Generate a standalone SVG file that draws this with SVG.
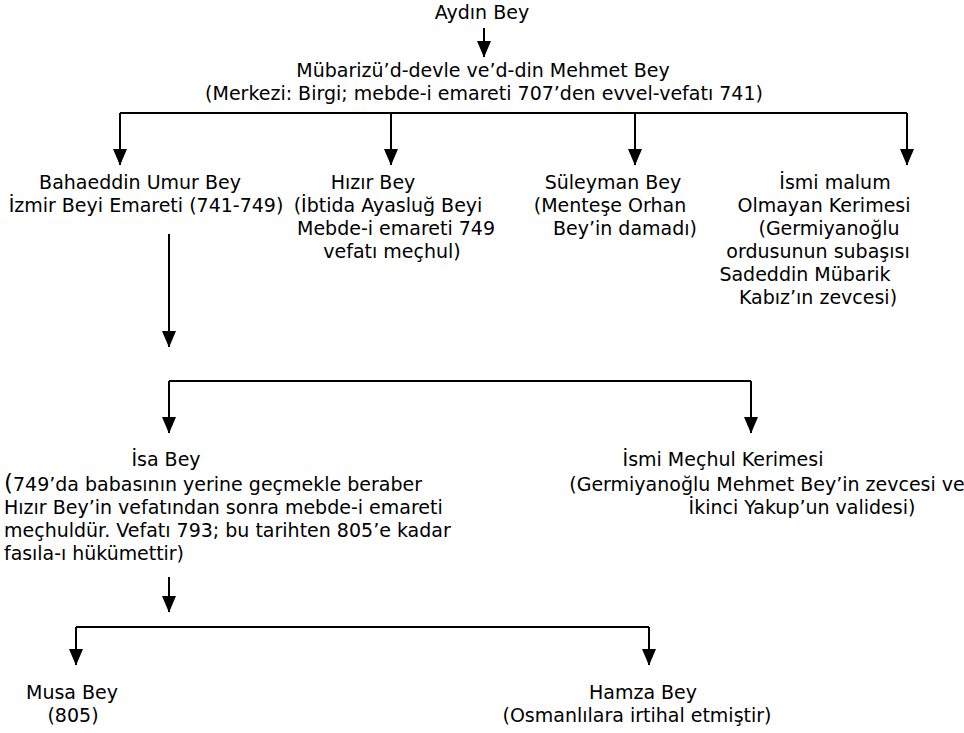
<svg xmlns="http://www.w3.org/2000/svg" width="964" height="733" viewBox="0 0 964 733">
<style>
text{font-family:"DejaVu Sans","Noto Sans",sans-serif;font-size:19px;fill:#000}
.m{text-anchor:middle}
.c{fill:none;stroke:#000;stroke-width:2}
</style>
<defs>
<marker id="ah" markerUnits="userSpaceOnUse" markerWidth="16" markerHeight="17" refX="8" refY="16" orient="0" viewBox="0 0 16 17">
<path d="M1,0 L15,0 L8,16.5 Z" fill="#000"/>
</marker>
</defs>
<rect width="964" height="733" fill="#fff"/>
<g id="connectors">
<path class="c" d="M484,28 V57" marker-end="url(#ah)"/>
<path class="c" d="M120,113 H907"/>
<path class="c" d="M120,113 V165" marker-end="url(#ah)"/>
<path class="c" d="M391,113 V165" marker-end="url(#ah)"/>
<path class="c" d="M635,113 V165" marker-end="url(#ah)"/>
<path class="c" d="M907,113 V165" marker-end="url(#ah)"/>
<path class="c" d="M169,234 V347" marker-end="url(#ah)"/>
<path class="c" d="M169,381 H751"/>
<path class="c" d="M169,381 V433" marker-end="url(#ah)"/>
<path class="c" d="M751,381 V433" marker-end="url(#ah)"/>
<path class="c" d="M169,577 V612" marker-end="url(#ah)"/>
<path class="c" d="M76,627 H649"/>
<path class="c" d="M76,627 V665" marker-end="url(#ah)"/>
<path class="c" d="M649,627 V665" marker-end="url(#ah)"/>
</g>
<g id="aydin"><text class="m" x="482" y="19">Aydın Bey</text></g>
<g id="mehmet">
<text class="m" x="483" y="77">Mübarizü’d-devle ve’d-din Mehmet Bey</text>
<text class="m" x="484" y="100">(Merkezi: Birgi; mebde-i emareti 707’den evvel-vefatı 741)</text>
</g>
<g id="umur">
<text class="m" x="140" y="189">Bahaeddin Umur Bey</text>
<text class="m" x="146" y="212">İzmir Beyi Emareti (741-749)</text>
</g>
<g id="hizir">
<text class="m" x="373" y="189">Hızır Bey</text>
<text class="m" x="388" y="212">(İbtida Ayasluğ Beyi</text>
<text class="m" x="396" y="235">Mebde-i emareti 749</text>
<text class="m" x="392" y="258">vefatı meçhul)</text>
</g>
<g id="suleyman">
<text class="m" x="613" y="189">Süleyman Bey</text>
<text class="m" x="610" y="212">(Menteşe Orhan</text>
<text class="m" x="625" y="235">Bey’in damadı)</text>
</g>
<g id="kerime1">
<text class="m" x="835" y="189">İsmi malum</text>
<text class="m" x="824" y="212">Olmayan Kerimesi</text>
<text class="m" x="829" y="235">(Germiyanoğlu</text>
<text class="m" x="818" y="258">ordusunun subaşısı</text>
<text class="m" x="805" y="281">Sadeddin Mübarik</text>
<text class="m" x="818" y="304">Kabız’ın zevcesi)</text>
</g>
<g id="isa">
<text class="m" x="166" y="466">İsa Bey</text>
<text x="4" y="491"><tspan font-size="23">(</tspan>749’da babasının yerine geçmekle beraber</text>
<text x="4" y="514">Hızır Bey’in vefatından sonra mebde-i emareti</text>
<text x="4" y="537">meçhuldür. Vefatı 793; bu tarihten 805’e kadar</text>
<text x="4" y="560" textLength="180" lengthAdjust="spacingAndGlyphs">fasıla-ı hükümettir)</text>
</g>
<g id="kerime2">
<text class="m" x="723" y="466">İsmi Meçhul Kerimesi</text>
<text class="m" x="767" y="491">(Germiyanoğlu Mehmet Bey’in zevcesi ve</text>
<text class="m" x="802" y="514">İkinci Yakup’un validesi)</text>
</g>
<g id="musa">
<text class="m" x="72" y="699">Musa Bey</text>
<text class="m" x="73" y="722">(805)</text>
</g>
<g id="hamza">
<text class="m" x="643" y="699">Hamza Bey</text>
<text class="m" x="637" y="722">(Osmanlılara irtihal etmiştir)</text>
</g>
</svg>
